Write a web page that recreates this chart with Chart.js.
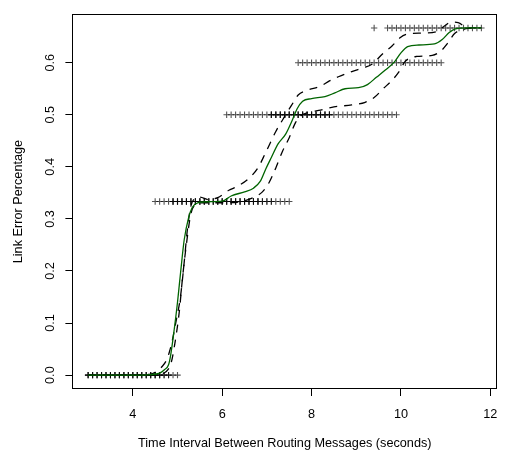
<!DOCTYPE html>
<html>
<head>
<meta charset="utf-8">
<script src="https://cdn.jsdelivr.net/npm/chart.js@4/dist/chart.umd.min.js"></script>
<style>
  html, body { margin: 0; padding: 0; background: #fff; }
  canvas { display: block; }
</style>
</head>
<body>
<canvas id="c" width="508" height="454"></canvas>
<script>
// Axis ticks
const ticksX = [4, 6, 8, 10, 12];
const ticksY = [0, 0.1, 0.2, 0.3, 0.4, 0.5, 0.6];

// Observed link error levels and the intervals at which they occur
// (counts = number of runs observed at that interval)
const level0 = 0;
const obsX0 = [3.0, 3.1, 3.2, 3.3, 3.4, 3.5, 3.6, 3.7, 3.8, 3.9, 4.0, 4.1, 4.2, 4.3, 4.4, 4.5, 4.6, 4.7, 4.8, 4.9, 5.0];
const obsN0 = [3, 3, 3, 3, 3, 3, 3, 3, 3, 3, 3, 3, 3, 3, 3, 3, 3, 2, 2, 1, 1];

const level1 = 1 / 3;
const obsX1 = [4.5, 4.6, 4.7, 4.8, 4.9, 5.0, 5.1, 5.2, 5.3, 5.4, 5.5, 5.6, 5.7, 5.8, 5.9, 6.0, 6.1, 6.2, 6.3, 6.4, 6.5, 6.6, 6.7, 6.8, 6.9, 7.0, 7.1, 7.2, 7.3, 7.4, 7.5];
const obsN1 = [1, 1, 1, 1, 3, 3, 3, 3, 3, 3, 3, 3, 3, 3, 3, 3, 3, 3, 3, 3, 3, 3, 3, 3, 2, 2, 2, 1, 1, 1, 1];

const level2 = 1 / 2;
const obsX2 = [6.1, 6.2, 6.3, 6.4, 6.5, 6.6, 6.7, 6.8, 6.9, 7.0, 7.1, 7.2, 7.3, 7.4, 7.5, 7.6, 7.7, 7.8, 7.9, 8.0, 8.1, 8.2, 8.3, 8.4, 8.5, 8.6, 8.7, 8.8, 8.9, 9.0, 9.1, 9.2, 9.3, 9.4, 9.5, 9.6, 9.7, 9.8, 9.9];
const obsN2 = [1, 1, 1, 1, 1, 1, 1, 1, 1, 1, 3, 3, 3, 3, 3, 3, 3, 3, 3, 3, 3, 3, 3, 3, 1, 1, 1, 1, 1, 1, 1, 1, 1, 1, 1, 1, 1, 1, 1];

const level3 = 0.6;
const obsX3 = [7.7, 7.8, 7.9, 8.0, 8.1, 8.2, 8.3, 8.4, 8.5, 8.6, 8.7, 8.8, 8.9, 9.0, 9.1, 9.2, 9.3, 9.4, 9.5, 9.6, 9.7, 9.8, 9.9, 10.0, 10.1, 10.2, 10.3, 10.4, 10.5, 10.6, 10.7, 10.8, 10.9];
const obsN3 = [1, 1, 1, 1, 1, 1, 1, 1, 1, 1, 1, 1, 1, 1, 1, 1, 1, 1, 1, 1, 1, 1, 1, 1, 1, 1, 1, 1, 1, 1, 1, 1, 1];

const level4 = 2 / 3;
const obsX4 = [9.4, 9.7, 9.8, 9.9, 10.0, 10.1, 10.2, 10.3, 10.4, 10.5, 10.6, 10.7, 10.8, 10.9, 11.0, 11.1, 11.2, 11.3, 11.4, 11.5, 11.6, 11.7, 11.8];
const obsN4 = [1, 1, 1, 1, 1, 1, 1, 1, 1, 1, 1, 1, 1, 1, 1, 1, 1, 1, 1, 1, 1, 1, 1];

// Fitted curve
const fitX = [3.0, 4.0, 4.4, 4.6, 4.7, 4.8, 4.85, 4.93, 5.0, 5.07, 5.15, 5.25, 5.33, 5.45, 5.7, 6.0, 6.2, 6.5, 6.7, 6.85, 6.97, 7.1, 7.25, 7.42, 7.57, 7.68, 7.8, 8.0, 8.3, 8.52, 8.75, 9.05, 9.25, 9.45, 9.65, 9.85, 10.0, 10.15, 10.4, 10.75, 10.93, 11.08, 11.22, 11.5, 11.8];
const fitY = [0.0, 0.0, 0.001, 0.004, 0.01, 0.02, 0.04, 0.09, 0.14, 0.198, 0.26, 0.303, 0.322, 0.331, 0.333, 0.334, 0.344, 0.352, 0.359, 0.372, 0.395, 0.418, 0.444, 0.463, 0.49, 0.512, 0.526, 0.531, 0.535, 0.542, 0.55, 0.552, 0.558, 0.572, 0.586, 0.601, 0.619, 0.631, 0.634, 0.636, 0.645, 0.658, 0.665, 0.667, 0.667];

// Upper confidence band
const upperX = [3.0, 4.0, 4.4, 4.55, 4.65, 4.75, 4.81, 4.88, 4.96, 5.07, 5.15, 5.22, 5.3, 5.37, 5.5, 5.7, 5.9, 6.15, 6.35, 6.6, 6.8, 6.96, 7.2, 7.35, 7.55, 7.7, 7.9, 8.2, 8.4, 8.6, 8.9, 9.15, 9.35, 9.6, 9.8, 9.98, 10.15, 10.5, 10.8, 10.98, 11.12, 11.28, 11.5, 11.8];
const upperY = [0.0, 0.0, 0.002, 0.008, 0.016, 0.028, 0.042, 0.065, 0.1, 0.153, 0.217, 0.279, 0.325, 0.338, 0.342, 0.337, 0.341, 0.355, 0.363, 0.378, 0.398, 0.425, 0.468, 0.49, 0.518, 0.538, 0.547, 0.555, 0.565, 0.573, 0.583, 0.59, 0.597, 0.618, 0.632, 0.648, 0.655, 0.657, 0.66, 0.671, 0.678, 0.677, 0.667, 0.667];

// Lower confidence band
const lowerX = [3.0, 4.5, 4.7, 4.8, 4.85, 4.93, 5.04, 5.11, 5.19, 5.3, 5.42, 5.6, 6.0, 6.4, 6.7, 6.9, 7.05, 7.2, 7.35, 7.5, 7.64, 7.76, 7.95, 8.2, 8.5, 8.9, 9.2, 9.4, 9.6, 9.8, 9.95, 10.1, 10.35, 10.7, 10.9, 11.05, 11.2, 11.4, 11.5, 11.8];
const lowerY = [0.0, 0.0, 0.004, 0.012, 0.021, 0.055, 0.122, 0.185, 0.245, 0.31, 0.328, 0.331, 0.331, 0.333, 0.341, 0.352, 0.37, 0.398, 0.43, 0.456, 0.485, 0.498, 0.505, 0.509, 0.515, 0.519, 0.524, 0.533, 0.55, 0.566, 0.582, 0.603, 0.612, 0.614, 0.623, 0.638, 0.656, 0.664, 0.666, 0.667];

const xTitle = 'Time Interval Between Routing Messages (seconds)';
const yTitle = 'Link Error Percentage';

const FONT = { family: "'Liberation Sans', Arial, Helvetica, sans-serif", size: 12.7 };

function obsPoints(xs, counts, level) {
  const pts = [];
  xs.forEach((x, i) => {
    for (let k = 0; k < counts[i]; k++) pts.push({ x: x, y: level });
  });
  return pts;
}
function curve(xs, ys) {
  return xs.map((x, i) => ({ x: x, y: ys[i] }));
}

const obsStyle = {
  showLine: false,
  pointStyle: 'cross',
  pointRadius: 3.2,
  pointBorderWidth: 1.1,
  pointBorderColor: 'rgba(0,0,0,0.68)',
  pointBackgroundColor: 'rgba(0,0,0,0)',
  order: 5
};
const lineStyle = {
  showLine: true,
  pointRadius: 0,
  fill: false,
  cubicInterpolationMode: 'monotone'
};

const datasets = [
  Object.assign({ label: 'fit', data: curve(fitX, fitY), borderColor: '#006400', borderWidth: 1.3, order: 0 }, lineStyle),
  Object.assign({ label: 'upper', data: curve(upperX, upperY), borderColor: '#000', borderWidth: 1.3, borderDash: [8, 7], order: 1 }, lineStyle),
  Object.assign({ label: 'lower', data: curve(lowerX, lowerY), borderColor: '#000', borderWidth: 1.3, borderDash: [8, 7], order: 1 }, lineStyle),
  Object.assign({ label: 'obs0', data: obsPoints(obsX0, obsN0, level0) }, obsStyle),
  Object.assign({ label: 'obs1', data: obsPoints(obsX1, obsN1, level1) }, obsStyle),
  Object.assign({ label: 'obs2', data: obsPoints(obsX2, obsN2, level2) }, obsStyle),
  Object.assign({ label: 'obs3', data: obsPoints(obsX3, obsN3, level3) }, obsStyle),
  Object.assign({ label: 'obs4', data: obsPoints(obsX4, obsN4, level4) }, obsStyle)
];

// Plot frame around the chart area
const framePlugin = {
  id: 'frame',
  afterDraw(chart) {
    const { ctx, chartArea: a } = chart;
    ctx.save();
    ctx.strokeStyle = '#000';
    ctx.lineWidth = 1;
    const l = Math.round(a.left) + 0.5;
    const t = Math.round(a.top) + 0.5;
    const r = Math.round(a.right) - 0.5;
    const b = Math.round(a.bottom) - 0.5;
    ctx.strokeRect(l, t, r - l, b - t);
    ctx.restore();
  }
};

new Chart(document.getElementById('c'), {
  type: 'scatter',
  data: { datasets: datasets },
  options: {
    responsive: false,
    animation: false,
    devicePixelRatio: 1,
    events: [],
    layout: { padding: { top: 8, right: 7.4, left: 0, bottom: 0 } },
    plugins: { legend: { display: false }, tooltip: { enabled: false } },
    scales: {
      x: {
        type: 'linear',
        position: 'bottom',
        min: 2.648,
        max: 12.152,
        afterBuildTicks: s => { s.ticks = ticksX.map(v => ({ value: v })); },
        afterFit: s => { s.height = 65; },
        grid: { display: true, drawOnChartArea: false, drawTicks: true, tickLength: 7, color: '#000', lineWidth: 1 },
        border: { display: false },
        ticks: { color: '#000', font: FONT, padding: 10.5, maxRotation: 0, autoSkip: false, callback: v => String(v) },
        title: { display: true, text: xTitle, color: '#000', font: FONT, padding: { top: 0, bottom: 2.4 } }
      },
      y: {
        type: 'linear',
        position: 'left',
        min: -0.026667,
        max: 0.693333,
        afterBuildTicks: s => { s.ticks = ticksY.map(v => ({ value: v })); },
        afterFit: s => { s.width = 72.4; },
        grid: { display: true, drawOnChartArea: false, drawTicks: true, tickLength: 7, color: '#000', lineWidth: 1 },
        border: { display: false },
        ticks: { color: '#000', font: FONT, padding: 6.5, minRotation: 90, maxRotation: 90, crossAlign: 'center', autoSkip: false, callback: v => Number(v).toFixed(1) },
        title: { display: true, text: yTitle, color: '#000', font: FONT, padding: { top: 10.4, bottom: 0 } }
      }
    }
  },
  plugins: [framePlugin]
});
</script>
</body>
</html>
